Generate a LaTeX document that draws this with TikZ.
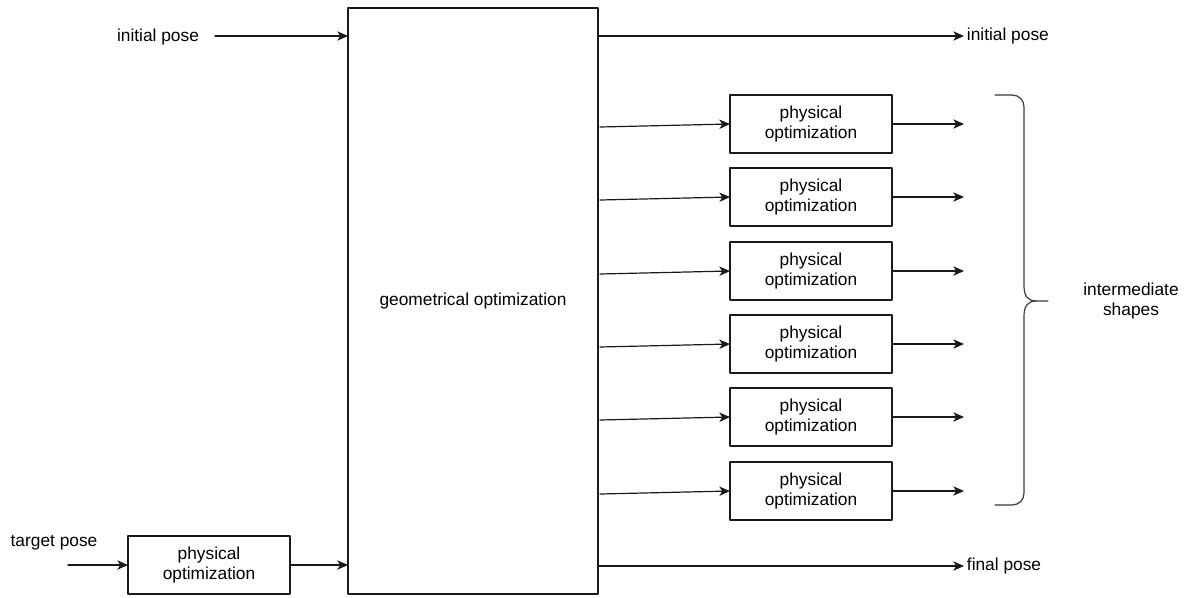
\documentclass[tikz,border=0pt]{standalone}
\usepackage{fontspec}
\setmainfont{Liberation Sans}
\usetikzlibrary{arrows.meta}
\definecolor{ink}{HTML}{1A1A1A}
\definecolor{rim}{HTML}{3C3C3C}
\tikzset{
  box/.style={draw=ink,line width=0.9pt,inner sep=0pt,outer sep=0pt,align=center,font=\fontsize{13}{15.6}\selectfont},
  physbox/.style={box,minimum width=121.5pt,minimum height=43.5pt},
  flow/.style={draw=ink,line width=0.9pt,-{Stealth[length=8pt,width=7pt,inset=2.2pt]}},
  lbl/.style={inner sep=2pt,align=center,font=\fontsize{13}{15.6}\selectfont}
}

\begin{document}
\begin{tikzpicture}[x=0.75pt,y=-0.75pt,line cap=round,line join=round]
  \useasboundingbox (0,0) rectangle (1192,597);
  % main block
  \node[box,minimum width=187.5pt,minimum height=439.5pt] (geo) at (473,301) {geometrical optimization};
  % inputs
  \node[lbl] (initIn) at (158,37) {initial pose};
  \coordinate (initSrc) at (215,36);
  \draw[flow] (initSrc) -- (initSrc -| geo.west);
  \node[lbl] (target) at (54,543) {target pose};
  \node[physbox] (physT) at (209,565) {physical\\optimization};
  \coordinate (targetSrc) at (68,565);
  \draw[flow] (targetSrc) -- (physT.west);
  \draw[flow] (physT.east) -- (physT.east -| geo.west);
  % outputs
  \node[lbl,anchor=west] (initOut) at (964,36) {initial pose};
  \draw[flow] (initOut.west -| geo.east) -- (initOut.west);
  \node[lbl,anchor=west] (finalOut) at (964,566) {final pose};
  \draw[flow] (finalOut.west -| geo.east) -- (finalOut.west);
  % intermediate branches
  \foreach \i/\y in {1/124,2/197,3/271,4/344,5/417,6/491}{
    \node[physbox] (phys\i) at (811,\y) {physical\\optimization};
    \coordinate (src\i) at (600,\y+3);
    \coordinate (out\i) at (964,\y);
    \draw[flow] (src\i) -- (phys\i.west);
    \draw[flow] (phys\i.east) -- (out\i);
  }
  % brace
  \draw[rim,line width=0.9pt] (995,95) -- (1012,95) .. controls (1019,95) and (1024,100) .. (1024,107)
    -- (1024,286) .. controls (1024,296) and (1028,301) .. (1036,301) -- (1048,301);
  \draw[rim,line width=0.9pt] (995,505) -- (1012,505) .. controls (1019,505) and (1024,500) .. (1024,493)
    -- (1024,316) .. controls (1024,306) and (1028,301) .. (1036,301);
  \node[lbl] (interm) at (1131,301) {intermediate\\shapes};
\end{tikzpicture}
\end{document}
